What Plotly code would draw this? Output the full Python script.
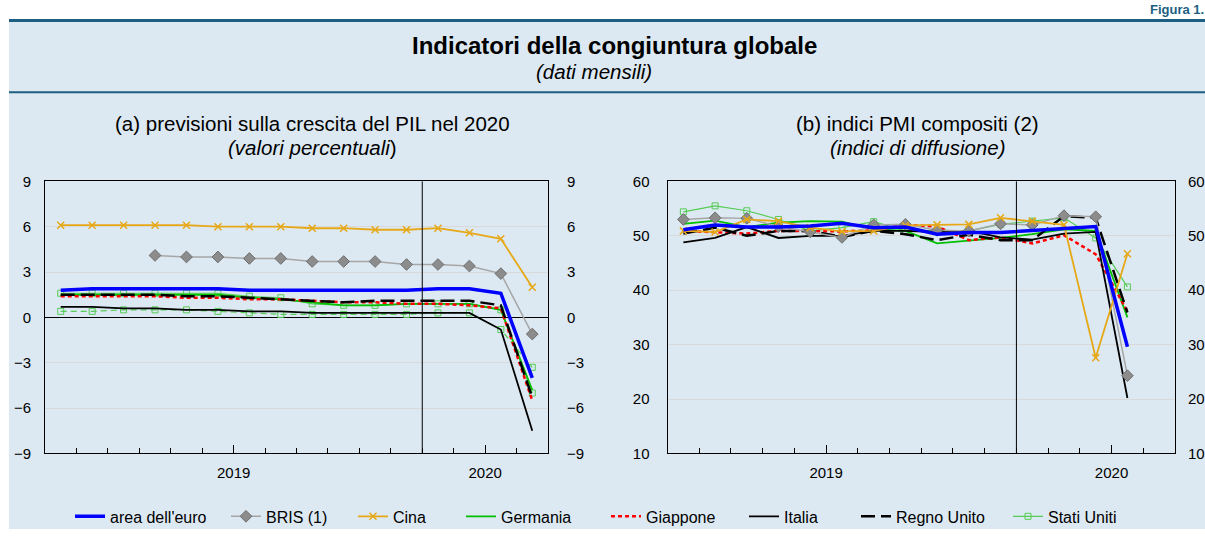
import plotly.graph_objects as go

W, H = 1205, 537
FONT = "Liberation Sans, Arial, sans-serif"
BG = "#dde9f2"
TEAL = "#1d5f82"

# month slots, Jan 2019 = 0
mesi_pil = list(range(16))
mesi_pmi = list(range(15))

# (a) previsioni di crescita del PIL 2020 (valori percentuali)
pil_euro = [1.8, 1.9, 1.9, 1.9, 1.9, 1.9, 1.8, 1.8, 1.8, 1.8, 1.8, 1.8, 1.9, 1.9, 1.6, -4.0]
pil_bris = [None, None, None, 4.1, 4.0, 4.0, 3.9, 3.9, 3.7, 3.7, 3.7, 3.5, 3.5, 3.4, 2.9, -1.1]
pil_cina = [6.1, 6.1, 6.1, 6.1, 6.1, 6.0, 6.0, 6.0, 5.9, 5.9, 5.8, 5.8, 5.9, 5.6, 5.2, 2.0]
pil_germania = [1.5, 1.5, 1.5, 1.5, 1.5, 1.5, 1.3, 1.2, 1.0, 0.8, 0.8, 0.9, 0.9, 0.9, 0.5, -4.8]
pil_giappone = [1.4, 1.4, 1.4, 1.4, 1.3, 1.3, 1.2, 1.2, 1.1, 1.0, 1.0, 0.9, 0.9, 0.8, 0.6, -5.5]
pil_italia = [0.7, 0.7, 0.6, 0.6, 0.5, 0.5, 0.4, 0.4, 0.3, 0.3, 0.3, 0.3, 0.3, 0.3, -0.8, -7.5]
pil_regno_unito = [1.5, 1.5, 1.5, 1.5, 1.4, 1.4, 1.3, 1.2, 1.1, 1.0, 1.1, 1.1, 1.1, 1.1, 0.8, -5.3]
pil_stati_uniti = [1.6, 1.6, 1.6, 1.6, 1.6, 1.6, 1.4, 1.3, 0.9, 0.8, 0.8, 0.9, 0.9, 0.9, 0.5, -5.0]
pil_extra = [0.4, 0.4, 0.5, 0.5, 0.5, 0.4, 0.3, 0.2, 0.2, 0.2, 0.2, 0.2, 0.3, 0.3, -0.8, -3.3]

# (b) indici PMI compositi
pmi_euro = [51.1, 52.0, 51.6, 51.6, 51.8, 52.3, 51.5, 51.6, 50.3, 50.6, 50.6, 51.0, 51.3, 51.7, 29.6]
pmi_bris = [53.0, 53.3, 53.2, 51.7, 50.7, 49.7, 52.0, 52.1, 51.0, 50.9, 52.2, 52.0, 53.7, 53.5, 24.3]
pmi_cina = [50.9, 50.7, 53.0, 52.7, 51.5, 50.8, 50.9, 51.9, 52.0, 52.1, 53.3, 52.7, 52.0, 27.6, 46.7]
pmi_germania = [52.2, 52.8, 51.6, 52.4, 52.7, 52.6, 51.2, 50.9, 48.6, 49.1, 49.6, 50.3, 51.2, 50.9, 35.0]
pmi_giappone = [50.9, 50.7, 50.4, 50.9, 50.9, 50.8, 51.0, 52.0, 51.7, 49.2, 49.7, 48.6, 50.1, 46.6, 36.1]
pmi_italia = [48.8, 49.6, 51.6, 49.6, 50.0, 50.0, 50.9, 50.9, 50.7, 50.9, 49.7, 49.3, 50.4, 50.7, 20.2]
pmi_regno_unito = [50.4, 51.5, 50.0, 50.9, 50.9, 49.8, 50.9, 50.3, 49.2, 50.2, 49.2, 49.2, 53.6, 53.3, 35.9]
pmi_stati_uniti = [54.4, 55.5, 54.6, 53.0, 50.9, 51.5, 52.6, 50.9, 51.0, 50.9, 52.1, 52.7, 53.3, 49.6, 40.6]

STYLES = {
    "area dell'euro": dict(line=dict(color="#0000ff", width=3.5), mode="lines"),
    "BRIS (1)": dict(line=dict(color="#a6a6a6", width=1.5), mode="lines+markers",
                     marker=dict(symbol="diamond", size=9, color="#8c8c8c",
                                 line=dict(color="#6e6e6e", width=1))),
    "Cina": dict(line=dict(color="#e6a817", width=1.8), mode="lines+markers",
                 marker=dict(symbol="x-thin", size=7, line=dict(color="#e6a817", width=1.5))),
    "Germania": dict(line=dict(color="#00c000", width=1.8), mode="lines"),
    "Giappone": dict(line=dict(color="#ff0000", width=2.5, dash="4px,3px"), mode="lines"),
    "Italia": dict(line=dict(color="#000000", width=1.8), mode="lines"),
    "Regno Unito": dict(line=dict(color="#000000", width=2.5, dash="14px,6px"), mode="lines"),
    "Stati Uniti": dict(line=dict(color="#55cc55", width=1.2), mode="lines+markers",
                        marker=dict(symbol="square-open", size=6, color="#55cc55",
                                    line=dict(width=1))),
}

pil_series = [
    ("area dell'euro", pil_euro), ("BRIS (1)", pil_bris), ("Cina", pil_cina),
    ("Germania", pil_germania), ("Giappone", pil_giappone), ("Italia", pil_italia),
    ("Regno Unito", pil_regno_unito), ("Stati Uniti", pil_stati_uniti),
]
pmi_series = [
    ("area dell'euro", pmi_euro), ("BRIS (1)", pmi_bris), ("Cina", pmi_cina),
    ("Germania", pmi_germania), ("Giappone", pmi_giappone), ("Italia", pmi_italia),
    ("Regno Unito", pmi_regno_unito), ("Stati Uniti", pmi_stati_uniti),
]
# legend item left edges (px)
legend_x = [70, 226, 353, 461, 606, 744, 856, 1008]

draw_order = ["Stati Uniti", "Germania", "Giappone", "Italia", "Regno Unito",
              "BRIS (1)", "Cina", "area dell'euro"]


def px_x(x):
    return x / W


def px_y(y):
    return 1 - y / H


fig = go.Figure()

# extra dashed light-green series in panel (a)
fig.add_trace(go.Scatter(
    x=mesi_pil, y=pil_extra, xaxis="x", yaxis="y", showlegend=False, hoverinfo="skip",
    mode="lines+markers", line=dict(color="#55cc55", width=1.2, dash="6px,4px"),
    marker=dict(symbol="square-open", size=6, color="#55cc55", line=dict(width=1)),
))

names = [n for n, _ in pil_series]
for name in draw_order:
    i = names.index(name)
    st = STYLES[name]
    fig.add_trace(go.Scatter(
        x=mesi_pil, y=pil_series[i][1], xaxis="x", yaxis="y", name=name,
        legend="legend" if i == 0 else f"legend{i + 1}", showlegend=True,
        connectgaps=False, **st,
    ))
    fig.add_trace(go.Scatter(
        x=mesi_pmi, y=pmi_series[i][1], xaxis="x2", yaxis="y2", name=name,
        showlegend=False, **st,
    ))

# dummy traces so the right-hand label axes exist
fig.add_trace(go.Scatter(x=[None], y=[None], xaxis="x", yaxis="y3", showlegend=False))
fig.add_trace(go.Scatter(x=[None], y=[None], xaxis="x2", yaxis="y4", showlegend=False))

xdom_a = [px_x(45), px_x(548)]
xdom_b = [px_x(667.5), px_x(1175)]
ydom = [px_y(459), px_y(178)]

tickfont = dict(family=FONT, size=15, color="#000000")


def xaxis(domain, anchor, labels_at):
    return dict(
        domain=domain, anchor=anchor, range=[-0.5, 15.5], showgrid=False, zeroline=False,
        showline=True, linecolor="#000000", linewidth=1, mirror=True,
        tickmode="array", tickvals=labels_at, ticktext=["2019", "2020"],
        ticks="inside", ticklen=8, tickcolor="#000000", tickfont=tickfont,
        ticklabelstandoff=6,
        minor=dict(tickmode="array", tickvals=[k + 0.5 for k in range(15)],
                   ticks="inside", ticklen=5, tickcolor="#000000"),
    )


def yaxis(rng, dtick, anchor, standoff, side="left", overlaying=None, zeroline=False,
          grid=True):
    d = dict(
        domain=ydom, anchor=anchor, range=rng, dtick=dtick, tick0=rng[0], side=side,
        showgrid=grid, gridcolor="#d9d9d9", gridwidth=1, zeroline=zeroline,
        zerolinecolor="#000000", zerolinewidth=1,
        showline=True, linecolor="#000000", linewidth=1, mirror=True,
        ticks="", tickfont=tickfont, ticklabelstandoff=standoff,
    )
    if overlaying:
        d["overlaying"] = overlaying
    return d


layout = dict(
    width=W, height=H, margin=dict(l=0, r=0, t=0, b=0),
    paper_bgcolor="#ffffff", plot_bgcolor="#ffffff",
    font=dict(family=FONT, size=15, color="#000000"),
    xaxis=xaxis(xdom_a, "y", [5.5, 13.5]),
    xaxis2=xaxis(xdom_b, "y2", [4.5, 13.5]),
    yaxis=yaxis([-9, 9], 3, "x", 10, zeroline=True),
    yaxis2=yaxis([10, 60], 10, "x2", 14),
    yaxis3=yaxis([-9, 9], 3, "x", 15, side="right", overlaying="y", grid=False),
    yaxis4=yaxis([10, 60], 10, "x2", 9, side="right", overlaying="y2", grid=False),
)

# one legend per entry to reproduce the spacing of the original
for i, lx in enumerate(legend_x):
    key = "legend" if i == 0 else f"legend{i + 1}"
    layout[key] = dict(
        x=px_x(lx), y=px_y(524), xanchor="left", yanchor="middle",
        orientation="h", bgcolor="rgba(0,0,0,0)", borderwidth=0,
        font=dict(family=FONT, size=16, color="#000000"),
        itemwidth=30, tracegroupgap=0,
    )

fig.update_layout(**layout)

shapes = [
    dict(type="rect", xref="paper", yref="paper", x0=px_x(9), x1=1, y0=0, y1=px_y(13),
         fillcolor=BG, line=dict(width=0), layer="below"),
    dict(type="line", xref="paper", yref="paper", x0=px_x(9), x1=1, y0=px_y(12), y1=px_y(12),
         line=dict(color=TEAL, width=3), layer="below"),
    dict(type="line", xref="paper", yref="paper", x0=px_x(9), x1=1, y0=px_y(86), y1=px_y(86),
         line=dict(color=TEAL, width=2), layer="below"),
    dict(type="line", xref="x", yref="y domain", x0=11.5, x1=11.5, y0=0, y1=1,
         line=dict(color="#000000", width=1)),
    dict(type="line", xref="x2", yref="y2 domain", x0=10.5, x1=10.5, y0=0, y1=1,
         line=dict(color="#000000", width=1)),
]
for s in shapes:
    fig.add_shape(**s)


def note(text, x, y, size, color="#000000", xanchor="center"):
    fig.add_annotation(text=text, x=px_x(x), y=px_y(y), xref="paper", yref="paper",
                       xanchor=xanchor, yanchor="middle", showarrow=False,
                       font=dict(family=FONT, size=size, color=color))


note("<b>Figura 1.</b>", 1206, 1, 13, color=TEAL, xanchor="right")
note("<b>Indicatori della congiuntura globale</b>", 614, 38, 24)
note("<i>(dati mensili)</i>", 594, 65, 20.5)
note("(a) previsioni sulla crescita del PIL nel 2020", 312, 118, 20.5)
note("<i>(valori percentuali</i>)", 312, 143, 20.5)
note("(b) indici PMI compositi (2)", 917, 118, 20.5)
note("<i>(indici di diffusione)</i>", 917, 143, 20.5)

fig.write_html("out.html", config={"displayModeBar": False},
               post_script="document.body.style.margin='0';")
